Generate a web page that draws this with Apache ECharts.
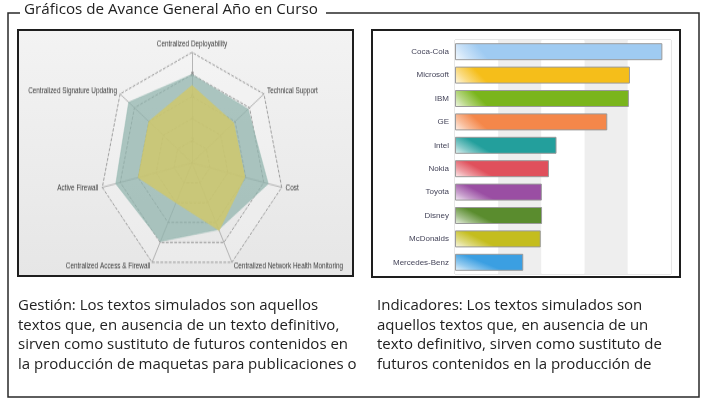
<!DOCTYPE html>
<html>
<head>
<meta charset="utf-8">
<script src="https://cdn.jsdelivr.net/npm/echarts@6/dist/echarts.min.js"></script>
<style>
html,body{margin:0;padding:0;background:#fff;}
#main{position:absolute;left:0;top:0;width:708px;height:407px;}
#radar{position:absolute;left:20px;top:32px;width:331px;height:201px;transform:scaleY(1.2);transform-origin:0 0;}
</style>
</head>
<body>
<div id="main"></div>
<div id="radar"></div>
<script>
// ---- data ----
const titleText = 'Gráficos de Avance General Año en Curso';
// radar indicators in ECharts (counter-clockwise from top) order
const radarNames = [
  'Centralized Deployability',
  'Centralized Signature Updating',
  'Active Firewall',
  'Centralized Access & Firewall',
  'Centralized Network Health Monitoring',
  'Cost',
  'Technical Support'
];
const radarMax = 10;
const radarSplits = 5;
const seriesTeal   = [8.0, 8.8, 8.5, 7.9, 6.7, 8.5, 7.8];
const seriesYellow = [7.0, 6.0, 6.0, 4.0, 6.8, 5.9, 5.8];

const barCategories = ['Coca-Cola','Microsoft','IBM','GE','Intel','Nokia','Toyota','Disney','McDonalds','Mercedes-Benz'];
const barValues     = [96, 81, 80.5, 70.5, 47, 43.5, 40.2, 40.3, 39.7, 31.6];
const barColors     = ['#9fcbf2','#f5be1a','#7ab51c','#f4874a','#239f9c','#e0505c','#9a4ea3','#5a8c2e','#c4bd1e','#3b9fe2'];
const barAxisMax = 100;
const barAxisInterval = 20;

const leftText = 'Gestión: Los textos simulados son aquellos\ntextos que, en ausencia de un texto definitivo,\nsirven como sustituto de futuros contenidos en\nla producción de maquetas para publicaciones o';
const rightText = 'Indicadores: Los textos simulados son\naquellos textos que, en ausencia de un\ntexto definitivo, sirven como sustituto de\nfuturos contenidos en la producción de';

// ---- main chart (frames, texts, bar chart) ----
const mainChart = echarts.init(document.getElementById('main'));
const FONT = '"Open Sans", Lato, sans-serif';

mainChart.setOption({
  animation: false,
  graphic: [
    { type: 'polyline', z: -5, shape: { points: [[20,13],[8,13],[8,397],[699,397],[699,13],[326,13]] },
      style: { stroke: '#2a2a2a', lineWidth: 1.5, fill: null } },
    { type: 'text', z: 5, style: { text: titleText, x: 24, y: 10, font: '15.2px ' + FONT, fill: '#222', align: 'left', verticalAlign: 'middle' } },
    { type: 'rect', z: -4, shape: { x: 18, y: 30, width: 335, height: 246 },
      style: { fill: new echarts.graphic.LinearGradient(0,0,0,1,[{offset:0,color:'#f3f3f3'},{offset:1,color:'#e6e6e6'}]), stroke: '#1e1e1e', lineWidth: 2 } },
    { type: 'rect', z: -4, shape: { x: 372, y: 30, width: 308, height: 247 },
      style: { fill: '#ffffff', stroke: '#1e1e1e', lineWidth: 2 } },
    { type: 'text', z: 5, style: { text: leftText, x: 18, y: 296, font: '15px ' + FONT, lineHeight: 19.6, fill: '#222', align: 'left', verticalAlign: 'top' } },
    { type: 'text', z: 5, style: { text: rightText, x: 377, y: 296, font: '15px ' + FONT, lineHeight: 19.6, fill: '#222', align: 'left', verticalAlign: 'top' } }
  ],
  grid: { left: 455, right: 37, top: 40, bottom: 133, show: true, borderColor: '#cfcfcf', borderWidth: 1, backgroundColor: 'transparent' },
  xAxis: {
    type: 'value', min: 0, max: barAxisMax, interval: barAxisInterval,
    axisLabel: { show: false }, axisLine: { show: false }, axisTick: { show: false },
    splitLine: { show: false },
    splitArea: { show: true, areaStyle: { color: ['#ffffff', '#eeeeee'] } }
  },
  yAxis: {
    type: 'category', data: barCategories, inverse: true,
    axisLine: { show: false }, axisTick: { show: false },
    axisLabel: { fontSize: 8, color: '#45455a', margin: 6, fontFamily: 'Arial, "Liberation Sans", sans-serif' }
  },
  series: [{
    type: 'bar', barWidth: 17,
    data: barValues.map((v, i) => ({
      value: v,
      itemStyle: {
        color: new echarts.graphic.LinearGradient(0.1, 0, 0, 1, [
          { offset: 0, color: barColors[i] },
          { offset: 0.55, color: echarts.color.lerp(0.45, [barColors[i], '#ffffff']) },
          { offset: 1, color: echarts.color.lerp(0.9, [barColors[i], '#ffffff']) }
        ]),
        borderColor: '#9a9a9a', borderWidth: 1
      }
    }))
  }]
});

// ---- radar chart (stretched vertically like the reference image) ----
const radarChart = echarts.init(document.getElementById('radar'));
radarChart.setOption({
  animation: false,
  radar: {
    center: [172, 109],
    radius: 92,
    startAngle: 90,
    shape: 'polygon',
    splitNumber: radarSplits,
    nameGap: 4,
    indicator: radarNames.map((n, i) => {
      const o = { name: n, min: 0, max: radarMax };
      if (i === 0) o.axisLabel = { show: true };
      return o;
    }),
    axisName: { color: '#3a3a3a', fontSize: 6.4, fontFamily: 'Arial, "Liberation Sans", sans-serif' },
    axisLabel: {
      show: false, fontSize: 6, color: '#777', margin: -2,
      formatter: v => (v > 0 && v < radarMax) ? String(v) : ''
    },
    splitLine: { lineStyle: { color: '#7a7a7a', type: 'dashed', width: 0.7 } },
    splitArea: { show: true, areaStyle: { color: ['rgba(0,0,0,0)','rgba(0,0,0,0)','rgba(0,0,0,0)','rgba(0,0,0,0)','rgba(255,255,255,0.18)'] } },
    axisLine: { lineStyle: { color: '#9a9a9a', width: 0.7 } }
  },
  series: [{
    type: 'radar',
    symbol: 'none',
    data: [
      { value: seriesTeal, areaStyle: { color: '#8fb3ac', opacity: 0.72 }, lineStyle: { width: 0.5, color: '#98bab3' } },
      { value: seriesYellow, areaStyle: { color: '#d2c865', opacity: 0.78 }, lineStyle: { width: 0.5, color: '#c9c46f' } }
    ]
  }]
});
</script>
</body>
</html>
